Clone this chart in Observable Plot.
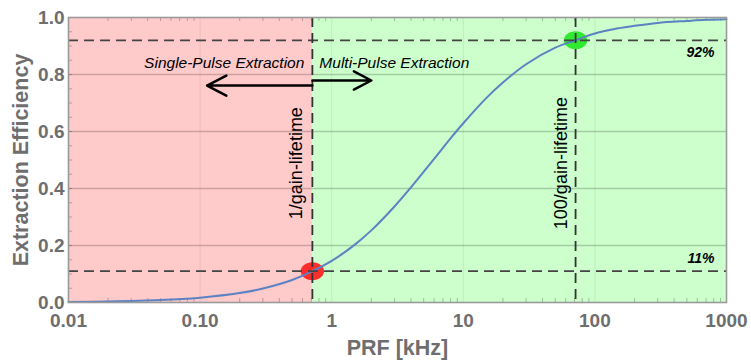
<!DOCTYPE html>
<html>
<head>
<meta charset="utf-8">
<script src="https://cdn.jsdelivr.net/npm/d3@7"></script>
<script src="https://cdn.jsdelivr.net/npm/@observablehq/plot@0.6"></script>
<style>
  html, body { margin: 0; padding: 0; background: #fff; }
  #chart svg { display: block; font-family: "Liberation Sans", Arial, sans-serif; }
</style>
</head>
<body>
<div id="chart"></div>
<script>
// ---- data ----
const prf = [0.01, 0.02, 0.05, 0.1, 0.2, 0.3, 0.5, 0.713, 1, 1.5, 2, 3, 4, 6, 8, 10, 15, 20, 30, 50, 71.3, 100, 150, 200, 300, 500, 700, 1000];
const efficiency = [0.002, 0.0035, 0.0085, 0.017, 0.033, 0.049, 0.079, 0.11, 0.146, 0.203, 0.253, 0.337, 0.404, 0.504, 0.576, 0.629, 0.718, 0.772, 0.836, 0.894, 0.92, 0.944, 0.962, 0.971, 0.981, 0.988, 0.992, 0.994];

const regionStart = [0.01, 0.713];
const regionEnd = [0.713, 1000];
const regionColor = ["#ffcaca", "#ccffcc"];

const markerPrf = [0.713, 71.3];
const markerEff = [0.11, 0.92];
const markerColor = ["#ff1e1e", "#22e822"];

const xTicks = [0.01, 0.1, 1, 10, 100, 1000];
const xTickLabels = ["0.01", "0.10", "1", "10", "100", "1000"];
const yTicks = [0, 0.2, 0.4, 0.6, 0.8, 1.0];
const yTickLabels = ["0.0", "0.2", "0.4", "0.6", "0.8", "1.0"];
const yGrid = [0.2, 0.4, 0.6, 0.8];
const xGrid = [0.1, 1, 10, 100];

const lineLabels = ["1/gain-lifetime", "100/gain-lifetime"];
const pctLabels = ["92%", "11%"];
const pctY = [0.878, 0.154];

// ---- build tables ----
const curve = prf.map((x, i) => ({x, y: efficiency[i]}));
const regions = regionStart.map((x1, i) => ({x1, x2: regionEnd[i], fill: regionColor[i]}));
const markers = markerPrf.map((x, i) => ({x, y: markerEff[i], fill: markerColor[i]}));
const xMinor = [];
for (let e = -2; e < 3; e++) for (let m = 2; m <= 9; m++) xMinor.push(m * Math.pow(10, e));
const yMinor = d3.range(0.05, 1, 0.05);

const xLabelMap = new Map(xTicks.map((t, i) => [t, xTickLabels[i]]));
const yLabelMap = new Map(yTicks.map((t, i) => [t, yTickLabels[i]]));

const ellipse = {
  draw(ctx, size) {
    const r = Math.sqrt(size / Math.PI);
    const rx = r * 1.3, ry = r, k = 0.5523;
    ctx.moveTo(rx, 0);
    ctx.bezierCurveTo(rx, ry * k, rx * k, ry, 0, ry);
    ctx.bezierCurveTo(-rx * k, ry, -rx, ry * k, -rx, 0);
    ctx.bezierCurveTo(-rx, -ry * k, -rx * k, -ry, 0, -ry);
    ctx.bezierCurveTo(rx * k, -ry, rx, -ry * k, rx, 0);
    ctx.closePath();
  }
};

const axisColor = "#6e6e6e";
const dash = "10,6";

const chart = Plot.plot({
  width: 751,
  height: 361,
  marginLeft: 68,
  marginRight: 25,
  marginTop: 17,
  marginBottom: 59,
  x: {type: "log", domain: [0.01, 1000]},
  y: {domain: [0, 1]},
  marks: [
    Plot.rect(regions, {x1: "x1", x2: "x2", y1: 0, y2: 1, fill: "fill"}),
    Plot.ruleY(yGrid, {stroke: "#000", strokeOpacity: 0.2, strokeWidth: 1.3}),
    Plot.ruleX(xGrid, {stroke: "#000", strokeOpacity: 0.07, strokeWidth: 1}),
    Plot.ruleX(xMinor, {x: d => d, y1: 0, y2: 0.014, stroke: "#000", strokeOpacity: 0.25}),
    Plot.ruleX(xMinor, {x: d => d, y1: 0.986, y2: 1, stroke: "#000", strokeOpacity: 0.25}),
    Plot.ruleY(yMinor, {y: d => d, x1: 0.01, x2: 0.0107, stroke: "#000", strokeOpacity: 0.25}),
    Plot.dot(markers, {x: "x", y: "y", fill: "fill", r: 9, symbol: ellipse, fillOpacity: 0.92}),
    Plot.line(curve, {x: "x", y: "y", stroke: "#5b83c3", strokeWidth: 2, curve: "catmull-rom"}),
    Plot.ruleY(markerEff, {stroke: "#444", strokeWidth: 1.8, strokeDasharray: dash}),
    Plot.ruleX(markerPrf, {stroke: "#333", strokeWidth: 1.8, strokeDasharray: dash}),
    Plot.arrow([{x1: 0.713, x2: 0.113, y: 0.761}], {x1: "x1", x2: "x2", y1: "y", y2: "y", stroke: "#000", strokeWidth: 2.5, headLength: 13, headAngle: 55}),
    Plot.arrow([{x1: 0.713, x2: 2.0, y: 0.779}], {x1: "x1", x2: "x2", y1: "y", y2: "y", stroke: "#000", strokeWidth: 2.5, headLength: 13, headAngle: 55}),
    Plot.text(["Single-Pulse Extraction"], {x: 0.713, y: 0.84, text: d => d, textAnchor: "end", dx: -8, fontStyle: "italic", fontSize: 15.5, fill: "#000"}),
    Plot.text(["Multi-Pulse Extraction"], {x: 0.713, y: 0.84, text: d => d, textAnchor: "start", dx: 7, fontStyle: "italic", fontSize: 15.5, fill: "#000"}),
    Plot.text([lineLabels[0]], {x: markerPrf[0], y: 0.489, text: d => d, rotate: -90, dx: -16, fontSize: 18, fill: "#000"}),
    Plot.text([lineLabels[1]], {x: markerPrf[1], y: 0.489, text: d => d, rotate: -90, dx: -14, fontSize: 18, fill: "#000"}),
    Plot.text(pctLabels, {y: (d, i) => pctY[i], text: d => d, frameAnchor: "right", textAnchor: "end", dx: -12, fontStyle: "italic", fontWeight: "bold", fontSize: 14, fill: "#000"}),
    Plot.frame({stroke: "#9a9a9a", strokeWidth: 1.6}),
    Plot.axisX({ticks: xTicks, tickFormat: d => xLabelMap.get(d), tickSize: 0, tickPadding: 11, fontSize: 19, fontWeight: "bold", color: axisColor, label: "PRF [kHz]", labelAnchor: "center", labelOffset: 52, labelArrow: "none"}),
    Plot.axisY({ticks: yTicks, tickFormat: d => yLabelMap.get(d), tickSize: 0, tickPadding: 4, fontSize: 19, fontWeight: "bold", color: axisColor, label: "Extraction Efficiency", labelAnchor: "center", labelOffset: 56, labelArrow: "none"})
  ]
});

chart.querySelectorAll('[aria-label="x-axis label"] text, [aria-label="y-axis label"] text').forEach(t => {
  t.setAttribute("font-size", "21.5");
});
document.getElementById("chart").appendChild(chart);
</script>
</body>
</html>
